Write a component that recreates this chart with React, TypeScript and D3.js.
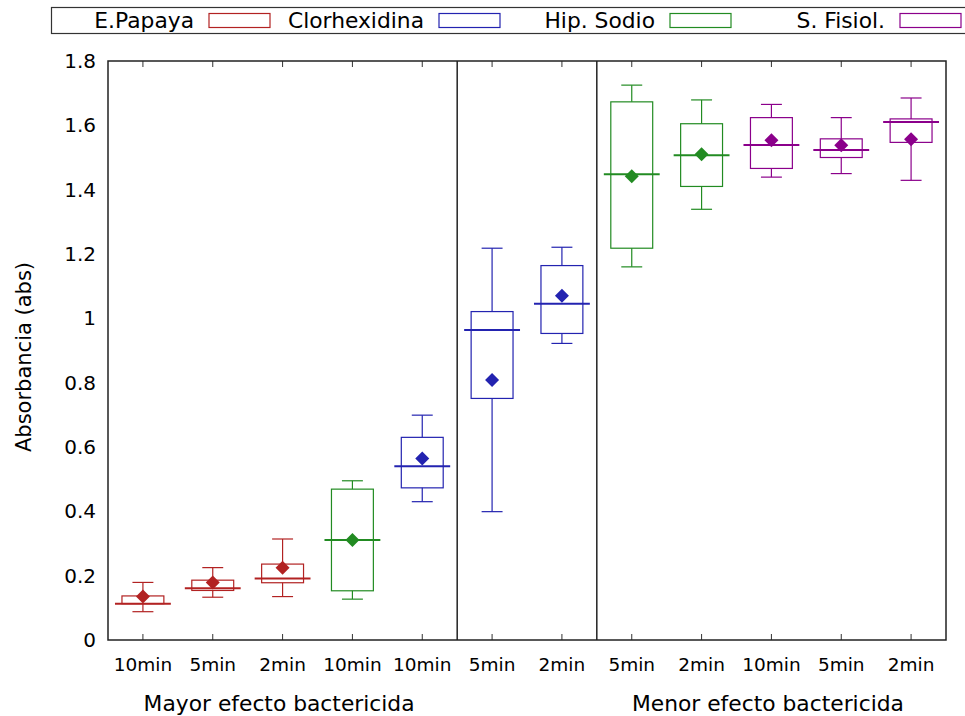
import React from "react";
import * as d3 from "d3";

const categories = ["10min", "5min", "2min", "10min", "10min", "5min", "2min", "5min", "2min", "10min", "5min", "2min"];
const seriesOf = [0, 0, 0, 2, 1, 1, 1, 2, 2, 3, 3, 3];
const whiskerLow = [0.088, 0.133, 0.135, 0.127, 0.43, 0.399, 0.922, 1.16, 1.339, 1.439, 1.45, 1.429];
const q1 = [0.113, 0.154, 0.178, 0.153, 0.473, 0.751, 0.953, 1.218, 1.41, 1.466, 1.5, 1.547];
const median = [0.113, 0.161, 0.191, 0.311, 0.54, 0.964, 1.045, 1.448, 1.507, 1.539, 1.523, 1.61];
const q3 = [0.137, 0.186, 0.236, 0.469, 0.63, 1.021, 1.164, 1.673, 1.605, 1.624, 1.558, 1.62];
const whiskerHigh = [0.179, 0.225, 0.314, 0.495, 0.699, 1.218, 1.221, 1.725, 1.679, 1.665, 1.624, 1.685];
const meanVal = [0.135, 0.179, 0.225, 0.311, 0.564, 0.808, 1.07, 1.442, 1.51, 1.554, 1.538, 1.557];
const seriesNames = ["E.Papaya", "Clorhexidina", "Hip. Sodio", "S. Fisiol."];
const seriesColors = ["#b22222", "#2323b0", "#228b22", "#8b008b"];
const yTicks = [0, 0.2, 0.4, 0.6, 0.8, 1, 1.2, 1.4, 1.6, 1.8];
const separators = [5.5, 7.5];
const groupLabels = ["Mayor efecto bactericida", "Menor efecto bactericida"];
const groupCenters = [2.95, 9.95];

const W = 965, H = 716;
const L = 108, R = 946, T = 61, B = 640;
const FONT = "DejaVu Sans, sans-serif";

export default function App() {
  const x = d3.scaleLinear().domain([0.5, 12.5]).range([L, R]);
  const y = d3.scaleLinear().domain([0, 1.8]).range([B, T]);
  const u = x(1) - x(0);
  const legendTextEnd = [194, 424, 655, 885];

  return (
    <svg width={W} height={H} style={{ position: "absolute", left: 0, top: 0, background: "#fff" }} fontFamily={FONT}>
      <rect x={0} y={0} width={W} height={H} fill="#fff" />
      {/* legend */}
      <rect x={51.5} y={7.5} width={1000} height={26} fill="none" stroke="#333" strokeWidth={1.2} />
      {seriesNames.map((n, i) => (
        <g key={n}>
          <text x={legendTextEnd[i]} y={27.5} textAnchor="end" fontSize={21.8} fill="#000">{n}</text>
          <rect x={legendTextEnd[i] + 15} y={13.5} width={61} height={14} fill="none" stroke={seriesColors[i]} strokeWidth={1.2} />
        </g>
      ))}
      {/* boxes */}
      {categories.map((c, k) => {
        const i = k + 1;
        const col = seriesColors[seriesOf[k]];
        const cx = x(i);
        const bw = 0.3 * u, mw = 0.4 * u, cw = 0.15 * u;
        const dm = 7;
        const my = y(meanVal[k]);
        return (
          <g key={k}>
            <line x1={cx} x2={cx} y1={y(whiskerHigh[k])} y2={y(q3[k])} stroke={col} strokeWidth={1.2} />
            <line x1={cx} x2={cx} y1={y(q1[k])} y2={y(whiskerLow[k])} stroke={col} strokeWidth={1.2} />
            <line x1={cx - cw} x2={cx + cw} y1={y(whiskerHigh[k])} y2={y(whiskerHigh[k])} stroke={col} strokeWidth={1.2} />
            <line x1={cx - cw} x2={cx + cw} y1={y(whiskerLow[k])} y2={y(whiskerLow[k])} stroke={col} strokeWidth={1.2} />
            <rect x={cx - bw} y={y(q3[k])} width={2 * bw} height={y(q1[k]) - y(q3[k])} fill="none" stroke={col} strokeWidth={1.2} />
            <line x1={cx - mw} x2={cx + mw} y1={y(median[k])} y2={y(median[k])} stroke={col} strokeWidth={2} />
            <path d={`M${cx},${my - dm}L${cx + dm},${my}L${cx},${my + dm}L${cx - dm},${my}Z`} fill={col} />
          </g>
        );
      })}
      {/* separators */}
      {separators.map((s) => (
        <line key={s} x1={x(s)} x2={x(s)} y1={T} y2={B} stroke="#000" strokeWidth={1.3} />
      ))}
      {/* x ticks */}
      {categories.map((c, k) => (
        <g key={"t" + k}>
          <line x1={x(k + 1)} x2={x(k + 1)} y1={B} y2={B - 6} stroke="#333" strokeWidth={1} />
          <line x1={x(k + 1)} x2={x(k + 1)} y1={T} y2={T + 6} stroke="#333" strokeWidth={1} />
          <text x={x(k + 1)} y={671} textAnchor="middle" fontSize={18.5} fill="#000">{c}</text>
        </g>
      ))}
      {/* y tick labels */}
      {yTicks.map((t) => (
        <text key={t} x={96} y={y(t) + 7} textAnchor="end" fontSize={20} fill="#000">{d3.format("~g")(t)}</text>
      ))}
      {/* frame */}
      <rect x={L} y={T} width={R - L} height={B - T} fill="none" stroke="#222" strokeWidth={1.5} />
      {/* labels */}
      <text transform={`translate(31,357) rotate(-90)`} textAnchor="middle" fontSize={21} fill="#000">Absorbancia (abs)</text>
      {groupLabels.map((g, i) => (
        <text key={g} x={x(groupCenters[i])} y={711} textAnchor="middle" fontSize={21.8} fill="#000">{g}</text>
      ))}
    </svg>
  );
}
